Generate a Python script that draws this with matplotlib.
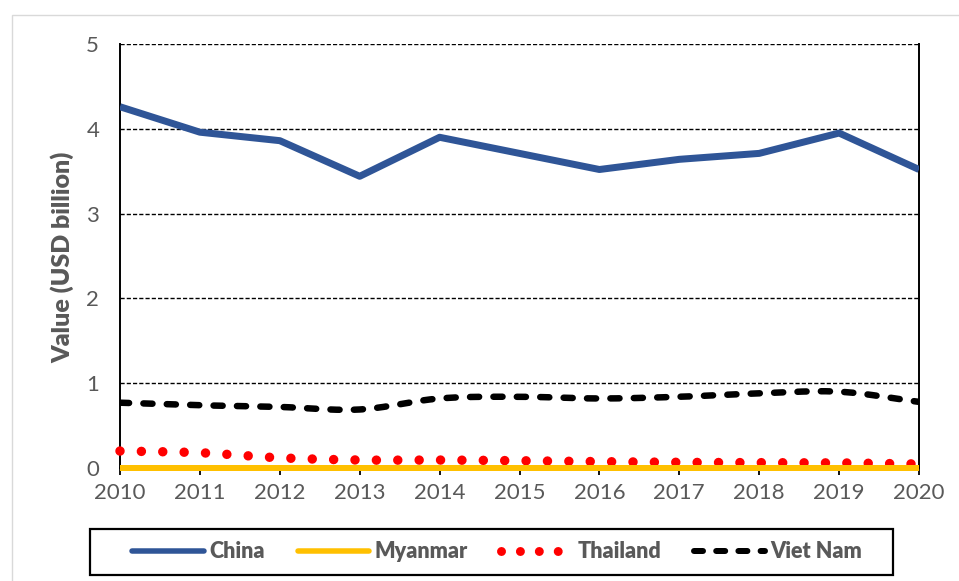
import numpy as np
import matplotlib
matplotlib.use("Agg")
import matplotlib.pyplot as plt
from matplotlib.lines import Line2D
from matplotlib.patches import Rectangle

years = [2010, 2011, 2012, 2013, 2014, 2015, 2016, 2017, 2018, 2019, 2020]
china = [4.26, 3.96, 3.86, 3.44, 3.90, 3.71, 3.52, 3.64, 3.71, 3.95, 3.52]
myanmar = [0.005] * 11
thailand = [0.20, 0.18, 0.12, 0.094, 0.094, 0.086, 0.075, 0.067, 0.063, 0.060, 0.047]
vietnam = [0.77, 0.74, 0.72, 0.69, 0.82, 0.84, 0.82, 0.84, 0.88, 0.90, 0.78]
series_names = ["China", "Myanmar", "Thailand", "Viet Nam"]
ylabel = "Value (USD billion)"

plt.rcParams['font.family'] = ['Lato', 'DejaVu Sans']
GREY = "#595959"
DPI = 100
W, H = 959, 581


def smooth(x, y, n=24):
    """Catmull-Rom style smoothing (like Excel's smoothed line) for drawing."""
    x = np.asarray(x, float)
    y = np.asarray(y, float)
    px_ = np.concatenate([[2 * x[0] - x[1]], x, [2 * x[-1] - x[-2]]])
    py_ = np.concatenate([[2 * y[0] - y[1]], y, [2 * y[-1] - y[-2]]])
    xs, ys = [], []
    for i in range(1, len(px_) - 2):
        t = np.linspace(0, 1, n, endpoint=False)
        p0, p1, p2, p3 = (np.array([px_[j], py_[j]]) for j in (i - 1, i, i + 1, i + 2))
        c1 = p1 + (p2 - p0) / 6.0
        c2 = p2 - (p3 - p1) / 6.0
        b = ((1 - t) ** 3)[:, None] * p1 + (3 * (1 - t) ** 2 * t)[:, None] * c1 \
            + (3 * (1 - t) * t ** 2)[:, None] * c2 + (t ** 3)[:, None] * p2
        xs.append(b[:, 0])
        ys.append(b[:, 1])
    xs.append([x[-1]])
    ys.append([y[-1]])
    return np.concatenate(xs), np.concatenate(ys)


fig = plt.figure(figsize=(W / DPI, H / DPI), dpi=DPI)
ax = fig.add_axes([120 / W, 1 - 468 / H, (919 - 120) / W, (468 - 44) / H])

# outer chart border
fig.patches.append(Rectangle((12 / W, 1 - 640 / H), 1.2, 625 / H, transform=fig.transFigure,
                             fill=False, edgecolor="#d9d9d9", lw=1.0, zorder=0))

# grid
for v in [1, 2, 3, 4, 5]:
    ax.axhline(v, color="black", lw=1.0, ls=(0, (3, 1.5)), zorder=1)

px = 72 / DPI
c_china = "#2F5597"
c_myan = "#FFC000"
c_thai = "#FF0000"

tx, ty = smooth(years, thailand)
ax.plot(tx, ty, color=c_thai, lw=9.5 * px, ls=(0, (0.001, 2.25)), dash_capstyle="round",
        zorder=4, clip_on=False)
ax.plot(years, myanmar, color=c_myan, lw=6 * px, solid_capstyle="butt", zorder=6,
        clip_on=False)
vx, vy = smooth(years, vietnam)
ax.plot(vx, vy, color="black", lw=6.5 * px, ls=(0, (1.4, 2.2)), dash_capstyle="round", zorder=4)
ax.plot(years, china, color=c_china, lw=7 * px, solid_capstyle="butt", zorder=5)

ax.set_xlim(2010, 2020)
ax.set_ylim(0, 5)
ax.set_xticks(years)
ax.set_yticks([0, 1, 2, 3, 4, 5])
ax.tick_params(axis="x", direction="out", length=5, width=1.3, color="black",
               labelsize=16, labelcolor=GREY, pad=6)
ax.tick_params(axis="y", length=0, labelsize=16, labelcolor=GREY, pad=15)
for s in ["left", "right", "bottom"]:
    ax.spines[s].set_color("black")
    ax.spines[s].set_linewidth(1.4)
ax.spines["top"].set_visible(False)

fig.text(62 / W, 1 - 257 / H, ylabel, rotation=90, ha="center", va="center",
         fontsize=18, fontweight="heavy", color=GREY)

# legend
fig.patches.append(Rectangle((90 / W, 1 - 575 / H), (893 - 90) / W, (575 - 529) / H,
                             transform=fig.transFigure, fill=False, edgecolor="black",
                             lw=1.6, zorder=2))
handles = [
    Line2D([], [], color=c_china, lw=5.5 * px, solid_capstyle="round"),
    Line2D([], [], color=c_myan, lw=5.5 * px, solid_capstyle="round"),
    Line2D([], [], color=c_thai, lw=9 * px, ls=(0, (0.001, 2.1)), dash_capstyle="round"),
    Line2D([], [], color="black", lw=6 * px, ls=(0, (1.5, 2.2)), dash_capstyle="round"),
]
leg = fig.legend(handles, series_names, loc="center", ncol=4,
                 bbox_to_anchor=((90 + 893) / 2 / W + 6 / W, 1 - 552 / H),
                 frameon=False, handlelength=3.3, handletextpad=0.25, columnspacing=1.55,
                 prop={"family": ["Lato", "DejaVu Sans"], "weight": "heavy", "size": 15.5})
for t in leg.get_texts():
    t.set_color(GREY)

fig.savefig("out.png", dpi=DPI)
